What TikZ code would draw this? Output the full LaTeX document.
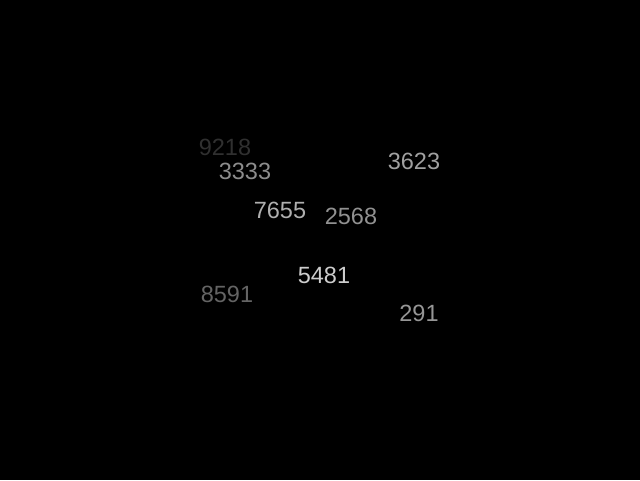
\documentclass[tikz,border=0pt]{standalone}
\usepackage{fontspec}
\setmainfont{Liberation Sans}
\tikzset{num/.style={font=\fontsize{23.5}{23.5}\selectfont, inner sep=0pt, anchor=center}}
\begin{document}
\begin{tikzpicture}[x=1pt,y=-1pt]
\fill[black] (0,0) rectangle (640,480);
\useasboundingbox (0,0) rectangle (640,480);
\node[num, text={rgb,255:red,48;green,48;blue,48}] (a) at (225,147) {9218};
\node[num, text={rgb,255:red,140;green,140;blue,140}] (b) at (245,171) {3333};
\node[num, text={rgb,255:red,160;green,160;blue,160}] (c) at (414,161) {3623};
\node[num, text={rgb,255:red,175;green,175;blue,175}] (d) at (280,210) {7655};
\node[num, text={rgb,255:red,145;green,145;blue,145}] (e) at (351,216) {2568};
\node[num, text={rgb,255:red,205;green,205;blue,205}] (f) at (324,275) {5481};
\node[num, text={rgb,255:red,100;green,100;blue,100}] (g) at (227,294) {8591};
\node[num, text={rgb,255:red,150;green,150;blue,150}] (h) at (419,313) {291};
\end{tikzpicture}
\end{document}
